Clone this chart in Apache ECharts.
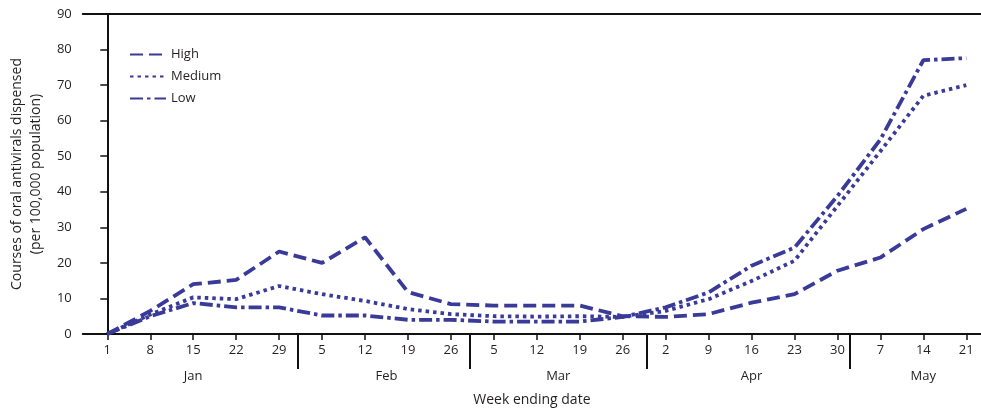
<!DOCTYPE html>
<html>
<head>
<meta charset="utf-8">
<script src="https://cdn.jsdelivr.net/npm/echarts@6/dist/echarts.min.js"></script>
<style>
  html, body { margin: 0; padding: 0; background: #fff; }
  #main { width: 981px; height: 412px; }
</style>
</head>
<body>
<div id="main"></div>
<script>
// week ending dates (day of month), one per week starting Jan 1
var dayLabels = ['1', '8', '15', '22', '29', '5', '12', '19', '26', '5', '12', '19', '26',
                 '2', '9', '16', '23', '30', '7', '14', '21'];
var monthNames = ['Jan', 'Feb', 'Mar', 'Apr', 'May'];
// month label centre and month separator, in days since Jan 1
var monthCenters = [14, 45.5, 73.5, 105, 133];
var monthEdges = [31, 59, 88, 121];

var high = [0, 6.5, 14, 15.2, 23.2, 20, 27.2, 11.8, 8.4, 8, 8, 8, 5, 4.8, 5.6, 8.8, 11.2, 17.8, 21.5, 29.5, 35.2];
var medium = [0, 5.5, 10.3, 9.8, 13.5, 11.2, 9.3, 7, 5.6, 5, 4.9, 5, 4.8, 6.5, 9.8, 14.9, 20.6, 36, 51.4, 67, 70];
var low = [0, 5, 8.7, 7.5, 7.5, 5.2, 5.2, 4, 4, 3.5, 3.5, 3.5, 4.8, 7.5, 11.7, 19.2, 24.3, 38.8, 54.7, 77, 77.6];

var lineColor = '#3a3a99';
var textColor = '#231f20';
var font = 'Open Sans';

var weekDays = dayLabels.map(function(d, i) { return i * 7; });

var toPoints = function(list) {
    return list.map(function(v, i) { return [weekDays[i], v]; });
};

var makeSeries = function(name, list, dash) {
    return {
        name: name,
        type: 'line',
        data: toPoints(list),
        symbol: 'none',
        xAxisIndex: 0,
        lineStyle: { color: lineColor, width: 3.8, type: dash, cap: 'butt' },
        itemStyle: { color: lineColor },
        emphasis: { disabled: true }
    };
};

var xMin = -4, xMax = 142.4;

var chart = echarts.init(document.getElementById('main'));
chart.setOption({
    animation: false,
    textStyle: { fontFamily: font, color: textColor },
    grid: { left: 70, right: 0, top: 14, bottom: 77 },
    legend: {
        orient: 'vertical',
        left: 124,
        top: 43,
        itemWidth: 36,
        itemHeight: 14,
        itemGap: 9,
        itemStyle: { opacity: 0 },
        textStyle: { fontFamily: font, fontSize: 13, color: textColor },
        data: ['High', 'Medium', 'Low']
    },
    xAxis: [
        {
            type: 'value', min: xMin, max: xMax, position: 'bottom',
            splitLine: { show: false },
            axisLine: { lineStyle: { color: '#111', width: 2 } },
            axisTick: { customValues: weekDays, length: 6, lineStyle: { color: '#111', width: 1.5 } },
            axisLabel: {
                customValues: weekDays, margin: 10, fontSize: 13, color: textColor,
                formatter: function(v) { return dayLabels[Math.round(v / 7)]; }
            }
        },
        {
            type: 'value', min: xMin, max: xMax, position: 'bottom',
            splitLine: { show: false },
            axisLine: { show: false },
            axisTick: { customValues: monthEdges, length: 35, lineStyle: { color: '#111', width: 2 } },
            axisLabel: {
                customValues: monthCenters, margin: 36, fontSize: 13, color: textColor,
                formatter: function(v) { return monthNames[monthCenters.indexOf(v)]; }
            },
            name: 'Week ending date',
            nameLocation: 'middle',
            nameGap: 59,
            nameTextStyle: { fontFamily: font, fontSize: 14, color: textColor }
        },
        {
            type: 'value', min: xMin, max: xMax, position: 'top',
            splitLine: { show: false },
            axisLine: { lineStyle: { color: '#111', width: 2 } },
            axisTick: { show: false },
            axisLabel: { show: false }
        }
    ],
    yAxis: {
        type: 'value', min: 0, max: 90, interval: 10,
        splitLine: { show: false },
        axisLine: { show: true, lineStyle: { color: '#111', width: 2 } },
        axisTick: { show: true, length: 7, lineStyle: { color: '#111', width: 1.5 } },
        axisLabel: { margin: 11, fontSize: 13, color: textColor },
        name: 'Courses of oral antivirals dispensed\n(per 100,000 population)',
        nameLocation: 'middle',
        nameGap: 33,
        nameTextStyle: { fontFamily: font, fontSize: 14, color: textColor, lineHeight: 19 }
    },
    series: [
        makeSeries('High', high, [13, 6]),
        makeSeries('Medium', medium, [3.5, 4]),
        makeSeries('Low', low, [13, 4, 3.5, 4])
    ]
});
</script>
</body>
</html>
